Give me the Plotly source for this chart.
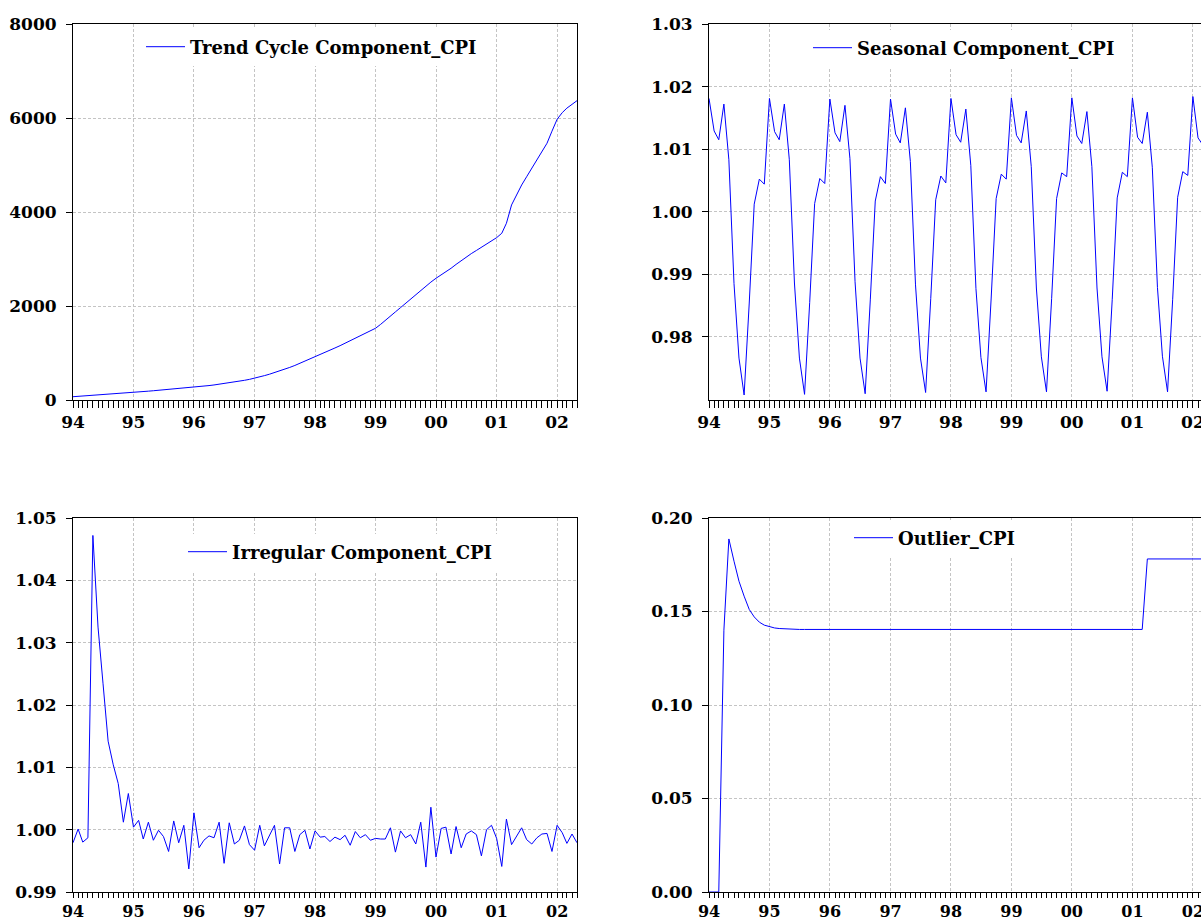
import plotly.graph_objects as go
import pandas as pd

# ---------------- data (monthly, 1994M01 - 2002M05) ----------------
dates = pd.date_range("1994-01-01", periods=101, freq="MS")

trend_cycle = [
    70, 77, 84, 91, 98, 105, 112, 120, 128, 136, 145, 154,
    164, 172, 180, 188, 197, 206, 215, 224, 234, 244, 254, 264,
    272, 283, 295, 307, 320, 334, 349, 365, 382, 400, 419, 439,
    461, 489, 518, 549, 582, 617, 654, 693, 735, 779, 826, 875,
    921, 966, 1012, 1059, 1107, 1156, 1207, 1258, 1310, 1362, 1415, 1470,
    1526, 1610, 1698, 1785, 1875, 1966, 2058, 2153, 2248, 2341, 2425, 2508,
    2590, 2660, 2730, 2803, 2885, 2967, 3049, 3115, 3182, 3249, 3317, 3385,
    3454, 3547, 3760, 4150, 4370, 4575, 4750, 4931, 5110, 5285, 5463, 5720,
    5973, 6114, 6210, 6290, 6369,
]

seasonal = [
    1.0181, 1.0129, 1.0115, 1.0172, 1.0083, 0.9885, 0.9766, 0.9707, 0.9854, 1.0012, 1.0052, 1.0044,
    1.0181, 1.0128, 1.0115, 1.0172, 1.0083, 0.9886, 0.9766, 0.9708, 0.9855, 1.0013, 1.0053, 1.0045,
    1.0180, 1.0126, 1.0112, 1.0170, 1.0085, 0.9888, 0.9766, 0.9709, 0.9859, 1.0017, 1.0056, 1.0045,
    1.0180, 1.0124, 1.0110, 1.0166, 1.0080, 0.9883, 0.9766, 0.9711, 0.9861, 1.0019, 1.0057, 1.0046,
    1.0181, 1.0123, 1.0111, 1.0164, 1.0074, 0.9877, 0.9767, 0.9712, 0.9862, 1.0021, 1.0060, 1.0052,
    1.0182, 1.0122, 1.0110, 1.0161, 1.0072, 0.9878, 0.9768, 0.9712, 0.9861, 1.0021, 1.0062, 1.0056,
    1.0182, 1.0121, 1.0109, 1.0160, 1.0072, 0.9878, 0.9768, 0.9713, 0.9860, 1.0022, 1.0063, 1.0056,
    1.0182, 1.0119, 1.0109, 1.0159, 1.0071, 0.9879, 0.9769, 0.9712, 0.9860, 1.0023, 1.0064, 1.0058,
    1.0184, 1.0118, 1.0107, 1.0158, 1.0070,
]

irregular = [
    0.9979, 1.0001, 0.9980, 0.9987, 1.0472, 1.0325, 1.0235, 1.0142, 1.0104, 1.0074, 1.0012, 1.0058,
    1.0004, 1.0015, 0.9985, 1.0012, 0.9983, 0.9999, 0.9989, 0.9965, 1.0014, 0.9979, 1.0007, 0.9937,
    1.0027, 0.9971, 0.9983, 0.9990, 0.9987, 1.0012, 0.9946, 1.0011, 0.9977, 0.9983, 1.0006, 0.9976,
    0.9967, 1.0007, 0.9974, 0.9990, 1.0007, 0.9945, 1.0003, 1.0003, 0.9965, 0.9992, 0.9999, 0.9969,
    0.9998, 0.9988, 0.9989, 0.9981, 0.9988, 0.9984, 0.9991, 0.9975, 0.9997, 0.9987, 0.9992, 0.9983,
    0.9986, 0.9985, 0.9985, 1.0003, 0.9964, 0.9998, 0.9987, 0.9992, 0.9977, 1.0012, 0.9940, 1.0036,
    0.9956, 1.0002, 1.0004, 0.9961, 1.0005, 0.9971, 0.9993, 0.9998, 0.9992, 0.9958, 1.0000, 1.0007,
    0.9986, 0.9941, 1.0017, 0.9976, 0.9989, 1.0003, 0.9984, 0.9977, 0.9987, 0.9993, 0.9994, 0.9965,
    1.0007, 0.9995, 0.9978, 0.9993, 0.9979,
]

outlier = [
    0.0, 0.0, 0.0, 0.1400, 0.1888, 0.1769, 0.1662, 0.1582, 0.1511, 0.1471, 0.1443, 0.1427,
    0.1418, 0.1412, 0.1409, 0.1407, 0.1405, 0.1404, 0.1404, 0.1404, 0.1404, 0.1404, 0.1404, 0.1404,
    0.1404, 0.1404, 0.1404, 0.1404, 0.1404, 0.1404, 0.1404, 0.1404, 0.1404, 0.1404, 0.1404, 0.1404,
    0.1404, 0.1404, 0.1404, 0.1404, 0.1404, 0.1404, 0.1404, 0.1404, 0.1404, 0.1404, 0.1404, 0.1404,
    0.1404, 0.1404, 0.1404, 0.1404, 0.1404, 0.1404, 0.1404, 0.1404, 0.1404, 0.1404, 0.1404, 0.1404,
    0.1404, 0.1404, 0.1404, 0.1404, 0.1404, 0.1404, 0.1404, 0.1404, 0.1404, 0.1404, 0.1404, 0.1404,
    0.1404, 0.1404, 0.1404, 0.1404, 0.1404, 0.1404, 0.1404, 0.1404, 0.1404, 0.1404, 0.1404, 0.1404,
    0.1404, 0.1404, 0.1404, 0.1781, 0.1781, 0.1781, 0.1781, 0.1781, 0.1781, 0.1781, 0.1781, 0.1781,
    0.1781, 0.1781, 0.1781, 0.1781, 0.1781,
]

names = ["Trend Cycle Component_CPI", "Seasonal Component_CPI",
         "Irregular Component_CPI", "Outlier_CPI"]

trend_ticks = [0, 2000, 4000, 6000, 8000]
seas_ticks = [0.98, 0.99, 1.00, 1.01, 1.02, 1.03]
irr_ticks = [0.99, 1.00, 1.01, 1.02, 1.03, 1.04, 1.05]
out_ticks = [0.00, 0.05, 0.10, 0.15, 0.20]

# ---------------- layout helpers ----------------
W, H = 1201, 922
FONT = "DejaVu Serif"
BLUE = "#0000ff"
GRID = "#c4c4c4"


def fx(p):
    return p / W


def fy(p):
    return 1 - p / H


def tfont(size):
    return dict(family=FONT, size=size, color="black", weight="bold")


def xaxis(domain, anchor, rng, tlen=7, fsize=17):
    return dict(
        type="date", domain=domain, anchor=anchor, range=rng,
        tickformat="%y", dtick="M12", tick0="1994-01-01",
        ticks="outside", ticklen=tlen, tickcolor="black", tickwidth=1,
        showline=True, linecolor="black", linewidth=1, mirror=True,
        showgrid=True, gridcolor=GRID, griddash="3px,2px", gridwidth=1,
        minor=dict(dtick="M1", tick0="1994-01-01", ticks="outside", ticklen=tlen,
                   tickcolor="black", tickwidth=1, showgrid=False),
        tickfont=tfont(fsize), zeroline=False, ticklabelstandoff=0,
        ticklabeloverflow="allow", automargin=False,
    )


def yaxis(domain, anchor, rng, tv, fmt, mirror):
    return dict(
        domain=domain, anchor=anchor, range=rng,
        tickmode="array", tickvals=tv, tickformat=fmt,
        ticks="outside", ticklen=6, tickcolor="black",
        showline=True, linecolor="black", linewidth=1, mirror=mirror,
        showgrid=True, gridcolor=GRID, griddash="3px,2px", gridwidth=1,
        tickfont=tfont(17), zeroline=False, ticklabelstandoff=6,
        ticklabeloverflow="allow", automargin=False,
    )


xl = [fx(73), fx(577)]
xr = [fx(709), 1.0]
yt = [fy(400), fy(24)]
ybl = [fy(892), fy(518)]
ybr = [fy(892), fy(518)]

full_range = ["1994-01-01", "2002-05-01"]
right_range = ["1994-01-01", "2002-02-19"]

fig = go.Figure()
series = [trend_cycle, seasonal, irregular, outlier]
axes = [("x", "y"), ("x2", "y2"), ("x3", "y3"), ("x4", "y4")]
legends = ["legend", "legend2", "legend3", "legend4"]
for s, nm, (xa, ya), lg in zip(series, names, axes, legends):
    fig.add_trace(go.Scatter(
        x=dates, y=s, mode="lines", name=nm,
        line=dict(color=BLUE, width=1),
        xaxis=xa, yaxis=ya, legend=lg, showlegend=True,
    ))

legfont = dict(family=FONT, size=18, color="black", weight="bold")


def leg(line_x, yp):
    return dict(x=fx(line_x - 8), y=fy(yp), xanchor="left", yanchor="middle",
                bgcolor="white", borderwidth=0, font=legfont, itemwidth=39,
                tracegroupgap=0)


fig.update_layout(
    width=W, height=H, autosize=False,
    margin=dict(l=0, r=0, t=0, b=0, pad=0, autoexpand=False),
    paper_bgcolor="white", plot_bgcolor="white",
    showlegend=True,
    xaxis=xaxis(xl, "y", full_range),
    yaxis=yaxis(yt, "x", [0, 8000], trend_ticks, "d", True),
    xaxis2=xaxis(xr, "y2", right_range),
    yaxis2=yaxis(yt, "x2", [0.9699, 1.03], seas_ticks, ".2f", False),
    xaxis3=xaxis(xl, "y3", full_range, tlen=5, fsize=16),
    yaxis3=yaxis(ybl, "x3", [0.99, 1.05], irr_ticks, ".2f", True),
    xaxis4=xaxis(xr, "y4", right_range, tlen=5, fsize=16),
    yaxis4=yaxis(ybr, "x4", [0.0, 0.20], out_ticks, ".2f", False),
    legend=leg(149, 47),
    legend2=leg(816, 48),
    legend3=leg(191, 552),
    legend4=leg(857, 538),
)

fig.write_html(
    "out.html",
    config={"displayModeBar": False},
    post_script="document.body.style.margin='0';document.body.style.overflow='hidden';",
)
